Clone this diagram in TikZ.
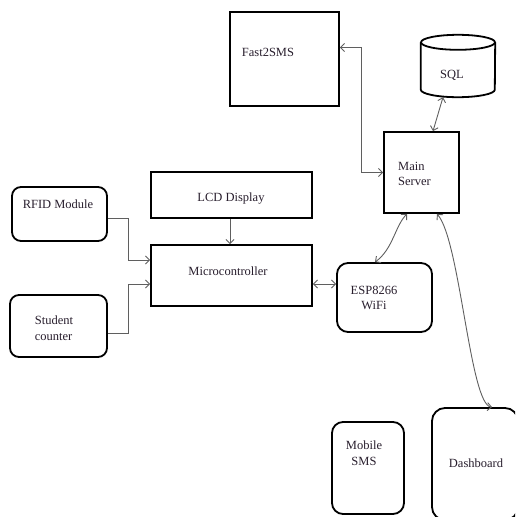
\documentclass[tikz,border=0pt]{standalone}
\usepackage{fontspec}
\setmainfont{Liberation Serif}
\usetikzlibrary{arrows.meta,calc}
\definecolor{cgray}{RGB}{95,95,95}
\definecolor{txt}{RGB}{40,30,45}
\tikzset{
  box/.style={draw=black, line width=1.8pt, inner sep=0pt},
  rbox/.style={box, rounded corners=9pt},
  lbl/.style={font=\fontsize{12.5}{15.5}\selectfont, text=txt, inner sep=0pt},
  conn/.style={draw=cgray, line width=0.9pt},
  >={Straight Barb[length=4pt,width=8pt]}
}
\begin{document}
\begin{tikzpicture}[x=1pt,y=-1pt]
\useasboundingbox (0,0) rectangle (515,517);
% boxes
\node[box, minimum width=109pt, minimum height=94pt] (fast) at (284.5,59) {};
\node[lbl] (fastT) at (268,52) {Fast2SMS};
% SQL cylinder
\node[inner sep=0pt, minimum width=74pt, minimum height=62pt] (sql) at (458,66) {};
\draw[box] ($(sql.north)+(0,7.5)$) ellipse [x radius=37pt, y radius=7.5pt];
\draw[box] ($(sql.north west)+(0,7.5)$) -- ($(sql.south west)+(0,-7.5)$)
   arc[start angle=180, end angle=360, x radius=37pt, y radius=7.5pt]
   -- ($(sql.north east)+(0,7.5)$);
\node[lbl] (sqlT) at (452,75) {SQL};
\node[box, minimum width=75pt, minimum height=81pt] (server) at (421.5,172.5) {};
\node[lbl, align=left, anchor=west] (serverT) at (398,174) {Main\\Server};
\node[box, minimum width=161pt, minimum height=46pt] (lcd) at (231.5,195) {};
\node[lbl] (lcdT) at (231,199) {LCD Display};
\node[box, minimum width=161pt, minimum height=61pt] (micro) at (231.5,275.5) {};
\node[lbl] (microT) at (228,271) {Microcontroller};
\node[rbox, minimum width=95pt, minimum height=54pt] (rfid) at (59.5,214) {};
\node[lbl] (rfidT) at (58,204) {RFID Module};
\node[rbox, minimum width=97pt, minimum height=62pt] (student) at (58.5,326) {};
\node[lbl, align=left] (studentT) at (54,328) {Student\\counter};
\node[rbox, rounded corners=11pt, minimum width=95pt, minimum height=69pt] (esp) at (384.5,297.5) {};
\node[lbl, align=center] (espT) at (374,298) {ESP8266\\WiFi};
\node[rbox, rounded corners=11pt, minimum width=72pt, minimum height=92pt] (mobile) at (368,468) {};
\node[lbl, align=center] (mobileT) at (364,453) {Mobile\\SMS};
\begin{scope}
\clip (0,0) rectangle (515,517);
\node[rbox, rounded corners=13pt, minimum width=86pt, minimum height=112pt] (dash) at (475,464) {};
\end{scope}
\node[lbl] (dashT) at (476,463) {Dashboard};
% connectors
\draw[conn,<->] ($(fast.north east)!0.38!(fast.south east)$) -| ($(server.west)+(-22,0)$) -- (server.west);
\draw[conn,<->] ($(sql.south)+(-15,0)$) -- ($(server.north)+(11.5,0)$);
\draw[conn,->] (lcd.south -| 230,0) -- (micro.north -| 230,0);
\draw[conn,->] ($(rfid.north east)!0.574!(rfid.south east)$) -| ($(micro.west)+(-22,-15.5)$) -- ($(micro.west)+(0,-15.5)$);
\draw[conn,->] ($(student.north east)!0.61!(student.south east)$) -| ($(micro.west)+(-22,8.5)$) -- ($(micro.west)+(0,8.5)$);
\draw[conn,<->] ($(micro.east)+(0,8.5)$) -- ($(micro.east -| esp.west)+(0,8.5)$);
\draw[conn,<->] ($(server.south)+(-14.5,0)$) .. controls (395,226) and (393,249) .. ($(esp.north)+(-9.5,0)$);
\draw[conn,<->] ($(server.south)+(15.5,0)$) .. controls (460,240) and (470,405) .. ($(dash.north)+(17,0)$);
\end{tikzpicture}
\end{document}
